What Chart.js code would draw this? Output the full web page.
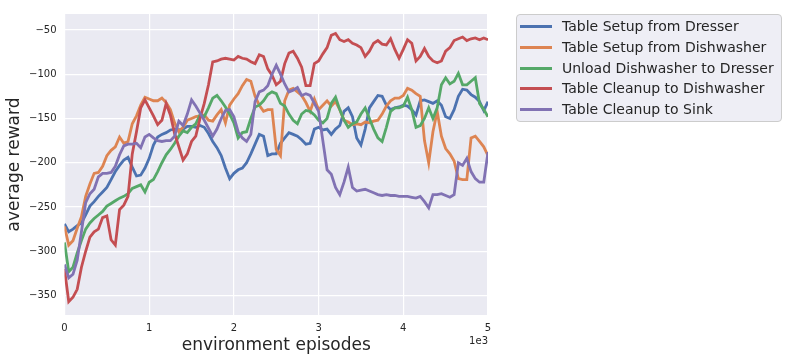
<!DOCTYPE html>
<html>
<head>
<meta charset="utf-8">
<script src="https://cdn.jsdelivr.net/npm/chart.js@4.4.1/dist/chart.umd.min.js"></script>
<style>
  html, body { margin: 0; padding: 0; background: #fff; }
  #wrap { position: relative; width: 789px; height: 362px; }
  #legend {
    position: absolute; left: 516px; top: 14px; width: 266px; height: 108px;
    box-sizing: border-box; background: rgba(234, 234, 242, 0.8);
    border: 1px solid #cccccc; border-radius: 4px;
    font-family: "DejaVu Sans"; font-size: 14px; color: #262626;
  }
  .item { position: absolute; left: 0; height: 20px; line-height: 20px; }
  .swatch { position: absolute; left: 3px; top: 9px; width: 32px; height: 3px; }
  .lbl { position: absolute; left: 45px; top: 0; white-space: nowrap; }
</style>
</head>
<body>
<div id="wrap">
  <canvas id="myChart" width="789" height="362"></canvas>
  <div id="legend"></div>
</div>
<script>
const ctx = document.getElementById("myChart");
const legendBox = document.getElementById("legend");

// x axis is a regular grid of episodes (0..5000, every 50)
const episodes = Array.from({ length: 101 }, (_, i) => i * 50);

const seriesNames = [
  "Table Setup from Dresser",
  "Table Setup from Dishwasher",
  "Unload Dishwasher to Dresser",
  "Table Cleanup to Dishwasher",
  "Table Cleanup to Sink",
];
const seriesColors = ["#4C72B0", "#DD8452", "#55A868", "#C44E52", "#8172B3"];

const setupDresser = [
  -269, -278, -275, -271, -268, -259, -249, -244, -238, -233,
  -228, -219, -210, -203, -197, -194, -205, -215, -214, -206,
  -195, -180, -171, -168, -166, -163, -162, -163, -162, -159,
  -159, -160, -158, -160, -167, -176, -183, -192, -206, -218,
  -212, -208, -206, -200, -190, -179, -168, -170, -192, -190,
  -190, -178, -172, -166, -168, -170, -174, -179, -178, -162,
  -160, -163, -162, -168, -162, -158, -142, -138, -148, -172,
  -180, -162, -138, -131, -124, -125, -135, -140, -138, -137,
  -135, -136, -140, -146, -130, -129, -131, -133, -130, -135,
  -148, -150, -140, -125, -117, -118, -123, -126, -131, -141, -131,
];
const setupDishwasher = [
  -272, -293, -288, -274, -261, -238, -224, -212, -211, -204,
  -192, -186, -182, -171, -178, -176, -156, -147, -135, -126,
  -128, -130, -130, -127, -132, -140, -155, -165, -160, -152,
  -150, -148, -147, -146, -152, -153, -146, -140, -155, -135,
  -128, -122, -113, -106, -108, -125, -135, -142, -140, -140,
  -185, -192, -130, -118, -116, -120, -124, -132, -142, -128,
  -140, -135, -130, -136, -131, -140, -152, -154, -157, -156,
  -157, -154, -155, -153, -152, -145, -136, -130, -127, -127,
  -124, -116, -118, -122, -125, -175, -200, -165, -142, -170,
  -184, -190, -198, -218, -219, -219, -172, -170, -176, -182, -192,
];
const unloadDishwasher = [
  -290, -323, -318, -302, -288, -275, -268, -263, -259, -255,
  -249, -246, -243, -240, -238, -235, -229, -227, -225, -233,
  -222, -219, -210, -200, -191, -185, -178, -170, -164, -166,
  -160, -156, -146, -148, -138, -127, -124, -130, -137, -145,
  -155, -172, -166, -165, -150, -137, -135, -130, -123, -120,
  -122, -133, -136, -145, -152, -156, -145, -141, -142, -146,
  -152, -155, -150, -133, -126, -140, -152, -160, -156, -154,
  -145, -138, -150, -162, -172, -176, -160, -142, -138, -138,
  -136, -126, -140, -160, -158, -150, -138, -150, -138, -112,
  -104, -111, -108, -99, -112, -112, -108, -104, -133, -140, -148,
];
const cleanupDishwasher = [
  -320, -357, -352, -343, -318, -300, -284, -278, -275, -262,
  -260, -287, -293, -253, -248, -238, -190, -165, -138, -129,
  -138, -147, -157, -152, -133, -146, -167, -182, -197, -190,
  -176, -170, -150, -133, -112, -86, -85, -83, -82, -83,
  -84, -80, -82, -83, -86, -88, -78, -80, -94, -101,
  -112, -108, -88, -76, -74, -82, -92, -113, -113, -88,
  -85, -77, -70, -56, -54, -61, -63, -61, -65, -67,
  -70, -80, -74, -65, -62, -66, -67, -60, -72, -82,
  -72, -61, -65, -85, -80, -71, -80, -85, -87, -85,
  -74, -70, -62, -60, -58, -62, -60, -59, -61, -59, -61,
];
const cleanupSink = [
  -315, -330, -326, -310, -278, -245, -235, -230, -216, -212,
  -212, -211, -204, -191, -181, -179, -179, -178, -183, -171,
  -168, -172, -175, -176, -175, -175, -170, -153, -158, -145,
  -129, -136, -144, -152, -161, -170, -162, -150, -141, -140,
  -148, -165, -172, -176, -168, -131, -120, -118, -113, -100,
  -90, -100, -111, -120, -118, -115, -124, -122, -124, -133,
  -142, -175, -208, -213, -228, -236, -222, -205, -228, -232,
  -231, -230, -232, -234, -236, -237, -236, -237, -237, -238,
  -238, -238, -239, -240, -238, -244, -251, -236, -236, -235,
  -237, -239, -236, -200, -203, -195, -210, -218, -222, -222, -188,
];

const allSeries = [setupDresser, setupDishwasher, unloadDishwasher, cleanupDishwasher, cleanupSink];

const xTicks = [0, 1000, 2000, 3000, 4000, 5000];
const yTicks = [-350, -300, -250, -200, -150, -100, -50];

const FONT = "DejaVu Sans";
const TEXT = "#262626";

const axesBackground = {
  id: "axesBackground",
  beforeDraw: (chart) => {
    const a = chart.chartArea;
    const c = chart.ctx;
    c.save();
    c.fillStyle = "#ffffff";
    c.fillRect(0, 0, chart.width, chart.height);
    c.fillStyle = "#EAEAF2";
    c.fillRect(a.left, a.top, a.right - a.left, a.bottom - a.top);
    c.restore();
  },
  afterDraw: (chart) => {
    // scale factor text under the x axis, like matplotlib's offset text
    const a = chart.chartArea;
    const c = chart.ctx;
    c.save();
    c.fillStyle = TEXT;
    c.font = "10px '" + FONT + "'";
    c.textAlign = "right";
    c.textBaseline = "middle";
    c.fillText("1e3", a.right, 341);
    c.restore();
  },
};

const datasets = allSeries.map((values, i) => ({
  label: seriesNames[i],
  data: values.map((v, j) => ({ x: episodes[j], y: v })),
  borderColor: seriesColors[i],
  backgroundColor: seriesColors[i],
  borderWidth: 2.8,
  pointRadius: 0,
  tension: 0,
  order: allSeries.length - 1 - i,
}));

const myChart = new Chart(ctx, {
  type: "line",
  data: { datasets: datasets },
  plugins: [axesBackground],
  options: {
    responsive: false,
    animation: false,
    layout: { padding: { left: 0, right: 301, top: 6, bottom: 0 } },
    plugins: { legend: { display: false }, tooltip: { enabled: false } },
    scales: {
      x: {
        type: "linear",
        min: 0,
        max: 5000,
        afterBuildTicks: (s) => { s.ticks = xTicks.map((v) => ({ value: v })); },
        afterFit: (s) => { s.height = 47; },
        grid: { color: "#ffffff", lineWidth: 1.2, drawTicks: false },
        border: { display: false },
        ticks: {
          padding: 7,
          color: TEXT,
          font: { family: FONT, size: 10 },
          callback: (v) => String(v / 1000),
        },
        title: {
          display: true,
          text: "environment episodes",
          color: TEXT,
          font: { family: FONT, size: 17 },
          padding: { top: 0, bottom: 6 },
        },
      },
      y: {
        type: "linear",
        min: -372,
        max: -32,
        afterBuildTicks: (s) => { s.ticks = yTicks.map((v) => ({ value: v })); },
        afterFit: (s) => { s.width = 64.5; },
        grid: { color: "#ffffff", lineWidth: 1.2, drawTicks: false },
        border: { display: false },
        ticks: {
          padding: 8,
          color: TEXT,
          font: { family: FONT, size: 10 },
          callback: (v) => String(v).replace("-", "\u2212"),
        },
        title: {
          display: true,
          text: "average reward",
          color: TEXT,
          font: { family: FONT, size: 17 },
          padding: { top: 4, bottom: 0 },
        },
      },
    },
  },
});

// legend box drawn as html, same order as the datasets
const rowCenters = [11, 32, 53, 73, 94];
seriesNames.forEach((name, i) => {
  const item = document.createElement("div");
  item.className = "item";
  item.style.top = rowCenters[i] - 10 + "px";
  item.innerHTML =
    '<div class="swatch" style="background:' + seriesColors[i] + '"></div>' +
    '<div class="lbl">' + name + "</div>";
  legendBox.appendChild(item);
});
</script>
</body>
</html>
